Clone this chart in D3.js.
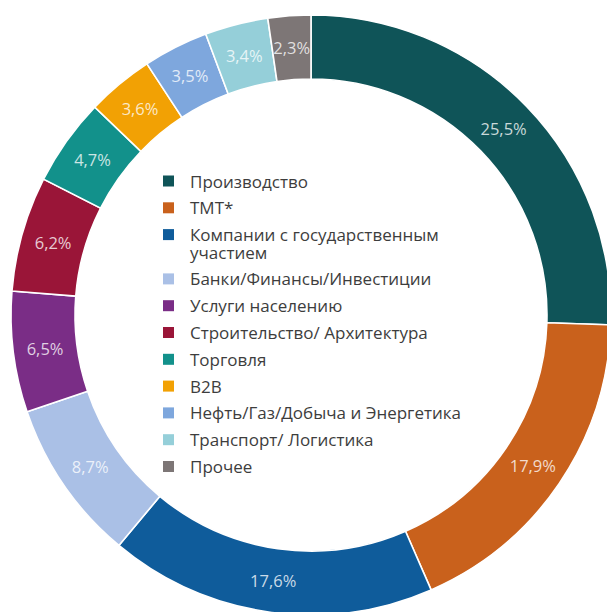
<!DOCTYPE html>
<html>
<head>
<meta charset="utf-8">
<script src="https://cdn.jsdelivr.net/npm/d3@7"></script>
<style>
  html, body { margin: 0; padding: 0; background: #fff; }
  svg { display: block; }
</style>
</head>
<body>
<svg id="chart" width="607" height="612"></svg>
<script>
const categories = [
  "Производство",
  "ТМТ*",
  "Компании с государственным участием",
  "Банки/Финансы/Инвестиции",
  "Услуги населению",
  "Строительство/ Архитектура",
  "Торговля",
  "B2B",
  "Нефть/Газ/Добыча и Энергетика",
  "Транспорт/ Логистика",
  "Прочее"
];
const values = [25.5, 17.9, 17.6, 8.7, 6.5, 6.2, 4.7, 3.6, 3.5, 3.4, 2.3];
const valueLabels = ["25,5%", "17,9%", "17,6%", "8,7%", "6,5%", "6,2%", "4,7%", "3,6%", "3,5%", "3,4%", "2,3%"];
const legendLines = [
  ["Производство"],
  ["ТМТ*"],
  ["Компании с государственным", "участием"],
  ["Банки/Финансы/Инвестиции"],
  ["Услуги населению"],
  ["Строительство/ Архитектура"],
  ["Торговля"],
  ["B2B"],
  ["Нефть/Газ/Добыча и Энергетика"],
  ["Транспорт/ Логистика"],
  ["Прочее"]
];
const colors = ["#0f5458", "#c9611c", "#0f5c9b", "#aac0e6", "#7a2d86", "#9a1538", "#12918b", "#f2a104", "#7ea7dd", "#95cfd9", "#7d7676"];

const svg = d3.select("#chart");
const cx = 311, cy = 315, rOuter = 300, rInner = 236;

const color = d3.scaleOrdinal().domain(categories).range(colors);
const pie = d3.pie().sort(null).value(d => d.v);
const data = categories.map((c, i) => ({ c, v: values[i], label: valueLabels[i] }));
const arcs = pie(data);
const arc = d3.arc().innerRadius(rInner).outerRadius(rOuter);

const g = svg.append("g").attr("transform", `translate(${cx},${cy})`);
g.selectAll("path.slice")
  .data(arcs)
  .join("path")
  .attr("class", "slice")
  .attr("d", arc)
  .attr("fill", d => color(d.data.c))
  .attr("stroke", "#fff")
  .attr("stroke-width", 1.6);

g.selectAll("text.val")
  .data(arcs)
  .join("text")
  .attr("class", "val")
  .attr("transform", d => `translate(${arc.centroid(d)})`)
  .attr("text-anchor", "middle")
  .attr("dominant-baseline", "central")
  .attr("font-family", "'Open Sans', 'Noto Sans', sans-serif")
  .attr("font-size", 16.5)
  .attr("fill", "#ffffff")
  .attr("fill-opacity", 0.78)
  .text(d => d.data.label);

// Legend
const legend = svg.append("g").attr("class", "legend");
const lx = 163, ly0 = 181, step = 26.8, wrapStep = 17.5;
let y = ly0;
categories.forEach((c, i) => {
  const lines = legendLines[i];
  legend.append("rect")
    .attr("x", lx).attr("y", y - 5.5)
    .attr("width", 11).attr("height", 11)
    .attr("fill", color(c));
  lines.forEach((ln, k) => {
    legend.append("text")
      .attr("x", lx + 27).attr("y", y + k * wrapStep)
      .attr("dominant-baseline", "central")
      .attr("font-family", "'Open Sans', 'Noto Sans', sans-serif")
      .attr("font-size", 17)
      .attr("fill", "#3d3d3d")
      .text(ln);
  });
  y += step + (lines.length - 1) * wrapStep;
});
</script>
</body>
</html>
